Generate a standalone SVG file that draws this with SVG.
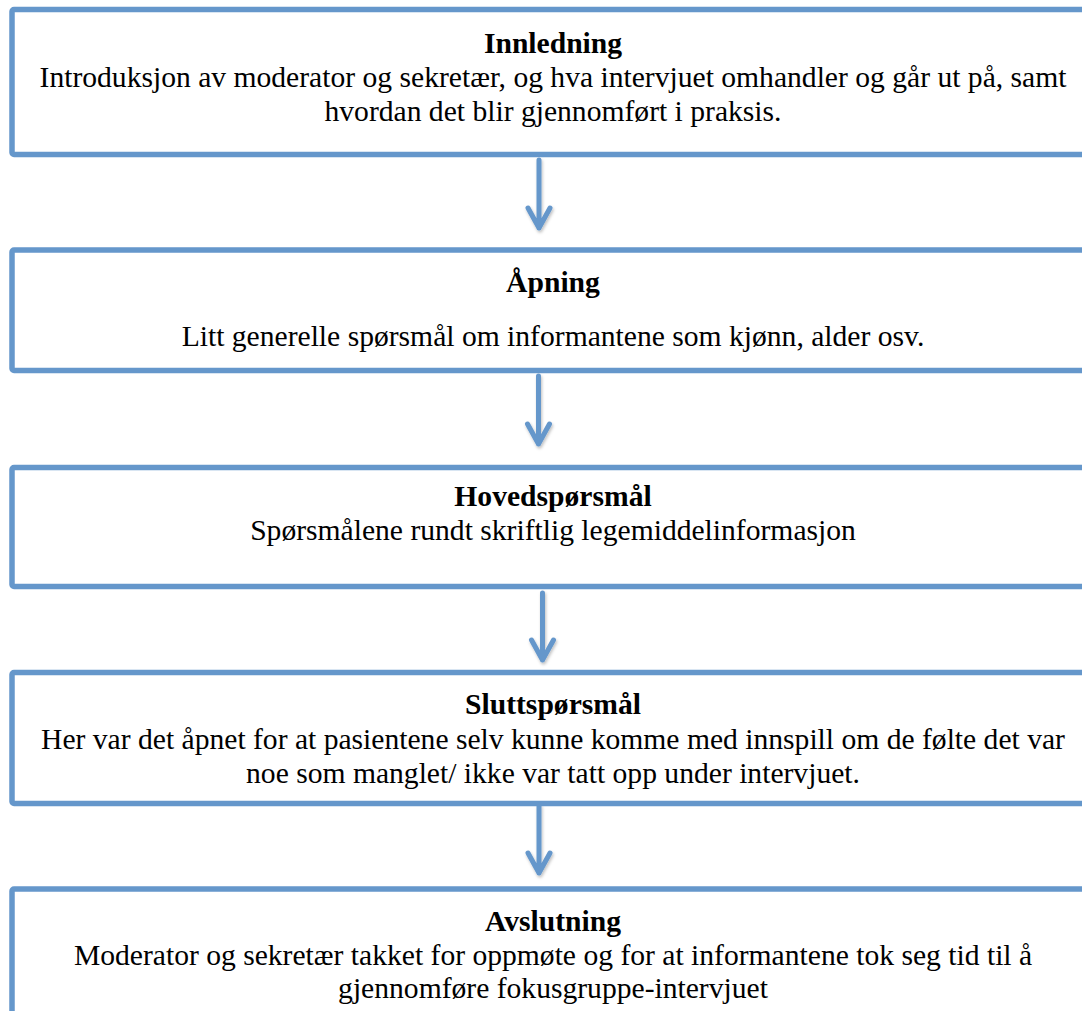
<svg xmlns="http://www.w3.org/2000/svg" width="1082" height="1011" viewBox="0 0 1082 1011">
<defs>
<style>
.box{fill:#ffffff;stroke:#6597CB;stroke-width:5.5}
.t{font-family:"Liberation Serif","Times New Roman",serif;font-size:29.6px;fill:#000;text-anchor:middle}
.b{font-weight:bold}
.arr{fill:none;stroke:#6597CB;stroke-width:5;stroke-linecap:round;stroke-linejoin:round}
</style>
<filter id="sh" x="-50%" y="-20%" width="200%" height="150%">
<feDropShadow dx="1" dy="2" stdDeviation="1.5" flood-color="#000" flood-opacity="0.25"/>
</filter>
</defs>
<rect width="1082" height="1011" fill="#ffffff"/>
<g id="connectors">
<path class="arr" filter="url(#sh)" d="M539,160 V228 M528,208 L539,228 L550,208"/>
<path class="arr" filter="url(#sh)" d="M538.5,376 V444 M527.5,424 L538.5,444 L549.5,424"/>
<path class="arr" filter="url(#sh)" d="M542.5,593 V660 M531.5,640 L542.5,660 L553.5,640"/>
<path class="arr" filter="url(#sh)" d="M539,806 V873 M528,853 L539,873 L550,853"/>
</g>
<g id="innledning">
<rect class="box" x="12" y="9.5" width="1085" height="145" rx="2"/>
<text class="t b" x="553" y="53">Innledning</text>
<text class="t" x="553" y="87">Introduksjon av moderator og sekretær, og hva intervjuet omhandler og går ut på, samt</text>
<text class="t" x="553" y="121">hvordan det blir gjennomført i praksis.</text>
</g>
<g id="apning">
<rect class="box" x="12" y="250" width="1085" height="120.5" rx="2"/>
<text class="t b" x="553" y="292">Åpning</text>
<text class="t" x="553" y="346">Litt generelle spørsmål om informantene som kjønn, alder osv.</text>
</g>
<g id="hovedsporsmal">
<rect class="box" x="12" y="467.5" width="1085" height="119" rx="2"/>
<text class="t b" x="553" y="506">Hovedspørsmål</text>
<text class="t" x="553" y="540">Spørsmålene rundt skriftlig legemiddelinformasjon</text>
</g>
<g id="sluttsporsmal">
<rect class="box" x="12" y="672.5" width="1085" height="131" rx="2"/>
<text class="t b" x="553" y="714">Sluttspørsmål</text>
<text class="t" x="553" y="749">Her var det åpnet for at pasientene selv kunne komme med innspill om de følte det var</text>
<text class="t" x="553" y="783">noe som manglet/ ikke var tatt opp under intervjuet.</text>
</g>
<g id="avslutning">
<rect class="box" x="12" y="889" width="1085" height="150" rx="2"/>
<text class="t b" x="553" y="931">Avslutning</text>
<text class="t" x="553" y="965">Moderator og sekretær takket for oppmøte og for at informantene tok seg tid til å</text>
<text class="t" x="553" y="998">gjennomføre fokusgruppe-intervjuet</text>
</g>
</svg>
